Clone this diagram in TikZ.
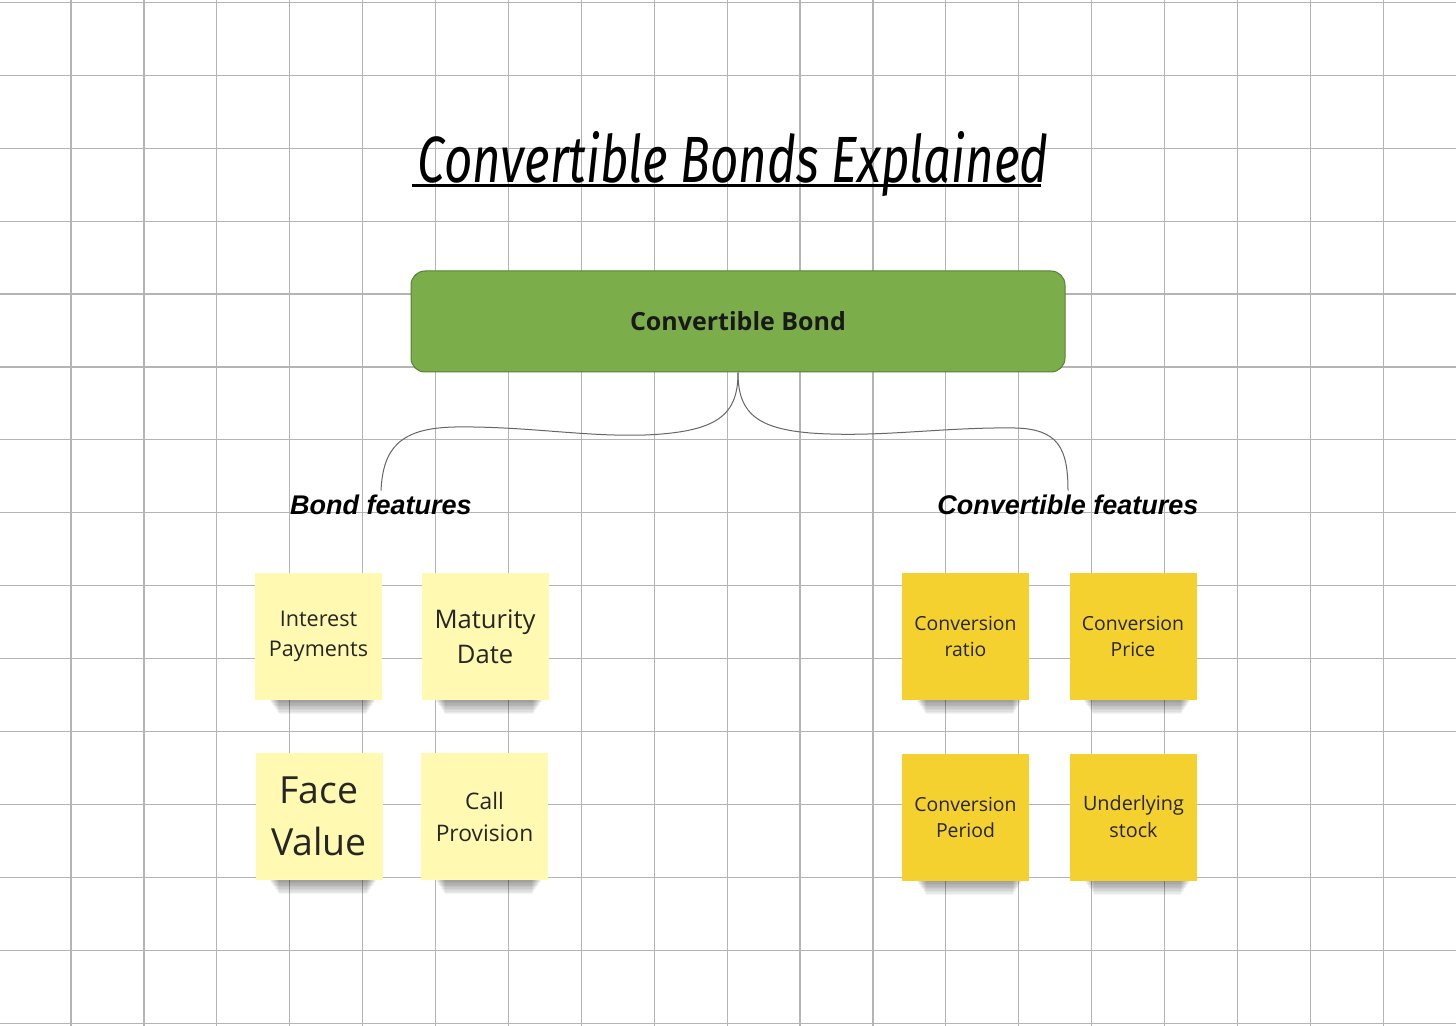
\documentclass[tikz,border=0pt]{standalone}
\usepackage{fontspec}
\usepackage{graphicx}
\setmainfont{Open Sans}
\newfontfamily\labelfont{Liberation Sans}
\newfontfamily\titlefont{Fira Sans}
\definecolor{bondgreen}{RGB}{123,174,75}
\definecolor{bondedge}{RGB}{88,128,52}
\definecolor{paleyellow}{RGB}{255,249,177}
\definecolor{deepyellow}{RGB}{245,209,48}
\definecolor{gridgray}{RGB}{180,180,180}

% soft shadow under a sticky note
\newcommand{\noteshadow}[1]{%
  \foreach \k in {1,...,10}
    \fill[black,opacity=.045] ([xshift={(7+0.5*\k)*1pt}]#1.south west)
      rectangle ([xshift={-(3+0.5*\k)*1pt},yshift={-0.7pt*\k}]#1.south east);}

\begin{document}
\begin{tikzpicture}[x=0.5pt,y=-0.5pt,
    gridline/.style={gridgray,line width=0.6pt},
    note/.style={minimum width=63.5pt,minimum height=63.5pt,inner sep=0pt,
      align=center,text=black!85},
    pale/.style={note,fill=paleyellow},
    deep/.style={note,fill=deepyellow},
    feature/.style={font=\labelfont\bfseries\itshape\fontsize{13.5}{16}\selectfont,
      inner sep=2pt},
    brace/.style={black!60,line width=0.5pt}]
  \useasboundingbox[fill=white] (0,0) rectangle (1456,1026);
  % grid
  \foreach \i in {0,...,20}
    \draw[gridline] ({-1.9+72.9*\i},0) -- ++(0,1026);
  \foreach \j in {0,...,14}
    \draw[gridline] (0,{2.5+72.9*\j}) -- ++(1456,0);

  % title
  \node[anchor=base,inner sep=0pt] (title) at (733,183)
    {\resizebox{315pt}{25.5pt}{\titlefont\itshape Convertible Bonds Explained}};
  \draw[line width=1.5pt] (412,186) -- (1041,186);

  % root
  \node[fill=bondgreen,draw=bondedge,line width=0.5pt,rounded corners=7pt,
    minimum width=327pt,minimum height=50.5pt,
    font=\bfseries\fontsize{12.5}{15}\selectfont,text=black!90] (cb) at (738,321.5)
    {Convertible Bond};

  \node[feature] (bf) at (381,505) {Bond features};
  \node[feature] (cf) at (1068,505) {Convertible features};

  \draw[brace] (cb.south) .. controls (738,415) and (718,432) .. (645,435)
    .. controls (585,437) and (525,426) .. (455,427)
    .. controls (400,428) and (383,448) .. (bf.north);
  \draw[brace] (cb.south) .. controls (738,415) and (758,432) .. (830,434)
    .. controls (890,436) and (950,427) .. (1015,428)
    .. controls (1058,429) and (1068,448) .. (cf.north);

  % bond features
  \node[pale,font=\fontsize{10.8}{15}\selectfont] (ip) at (318.5,636.5) {Interest\\Payments};
  \node[pale,font=\fontsize{12.8}{17.5}\selectfont] (md) at (485,636.5) {Maturity\\Date};
  \node[pale,font=\fontsize{18.7}{26}\selectfont] (fv) at (319,816.5) {Face\\Value};
  \node[pale,font=\fontsize{11.4}{16}\selectfont] (cp) at (484.5,816.5) {Call\\Provision};

  % convertible features
  \node[deep,font=\fontsize{9.7}{13}\selectfont] (cr) at (965.5,636.5) {Conversion\\ratio};
  \node[deep,font=\fontsize{9.7}{13}\selectfont] (cpr) at (1133,636.5) {Conversion\\Price};
  \node[deep,font=\fontsize{9.7}{13}\selectfont] (cpe) at (965.5,817) {Conversion\\Period};
  \node[deep,font=\fontsize{9.9}{13.5}\selectfont] (us) at (1133.5,817) {Underlying\\stock};

  \foreach \n in {ip,md,fv,cp,cr,cpr,cpe,us}
    \noteshadow{\n};
\end{tikzpicture}
\end{document}
